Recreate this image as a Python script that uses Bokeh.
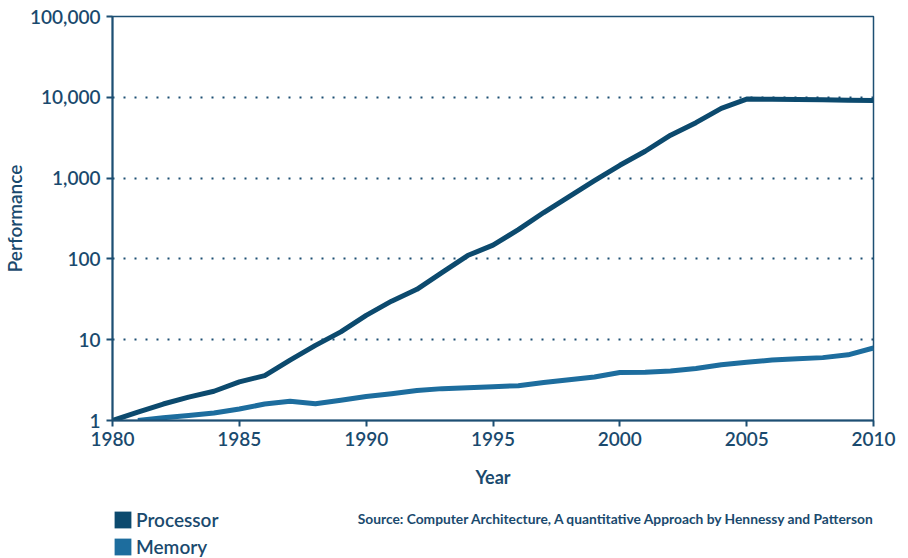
from bokeh.plotting import figure
from bokeh.layouts import column
from bokeh.models import (ColumnDataSource, Legend, LegendItem, Label,
                          NumeralTickFormatter, FixedTicker)
from bokeh.embed import file_html
from bokeh.resources import INLINE

# ---- data ----
proc_years = list(range(1980, 2011))
proc_perf = [1.0, 1.27, 1.6, 1.95, 2.3, 3.0, 3.6, 5.6, 8.5, 12.5, 20, 30, 42, 68, 110,
             148, 230, 375, 590, 930, 1440, 2150, 3400, 4850, 7300, 9500, 9450, 9400,
             9300, 9200, 9100]
mem_years = list(range(1981, 2011))
mem_perf = [1.0, 1.08, 1.15, 1.24, 1.39, 1.6, 1.73, 1.61, 1.78, 1.98, 2.14, 2.35, 2.48,
            2.55, 2.62, 2.7, 2.95, 3.2, 3.45, 3.93, 3.95, 4.1, 4.4, 4.9, 5.25, 5.6,
            5.8, 6.0, 6.5, 7.9]
x_ticks = [1980, 1985, 1990, 1995, 2000, 2005, 2010]
y_ticks = [1, 10, 100, 1000, 10000, 100000]
series_names = ["Processor", "Memory"]
source_note = "Source: Computer Architecture, A quantitative Approach by Hennessy and Patterson"

PROC_C = "#0c4a6e"
MEM_C = "#1d6d9e"
TEXT_C = "#1a4a6e"
AX_C = "#1d4f73"
FONT = "Lato"
FONT_MED = "Lato Semibold"

p = figure(width=908, height=490, output_backend="svg", toolbar_location=None,
           y_axis_type="log", x_range=(1980, 2010), y_range=(1, 100000),
           min_border_left=110, min_border_right=35, min_border_top=16,
           min_border_bottom=70)
p.background_fill_color = "white"
p.border_fill_color = "white"
p.outline_line_color = AX_C
p.outline_line_width = 1.5

# grid
p.xgrid.grid_line_color = None
p.ygrid.grid_line_color = AX_C
p.ygrid.grid_line_dash = "2 9"
p.ygrid.grid_line_width = 2
p.ygrid.ticker = FixedTicker(ticks=y_ticks[1:-1])

# axes
for ax in (p.xaxis[0], p.yaxis[0]):
    ax.axis_line_color = AX_C
    ax.axis_line_width = 2
    ax.major_tick_line_color = AX_C
    ax.major_tick_line_width = 2
    ax.major_tick_out = 6
    ax.major_tick_in = 0
    ax.minor_tick_line_color = None
    ax.major_label_text_font = FONT_MED
    ax.major_label_text_font_size = "19px"
    ax.major_label_text_color = TEXT_C
    ax.axis_label_text_color = TEXT_C

p.xaxis.ticker = FixedTicker(ticks=x_ticks)
p.xaxis.axis_label = "Year"
p.xaxis.axis_label_text_font = FONT
p.xaxis.axis_label_text_font_size = "18px"
p.xaxis.axis_label_text_font_style = "bold"
p.xaxis.major_label_standoff = 5
p.xaxis.axis_label_standoff = 17
p.yaxis.ticker = FixedTicker(ticks=y_ticks)
p.yaxis.formatter = NumeralTickFormatter(format="0,0")
p.yaxis.axis_label = "Performance"
p.yaxis.axis_label_text_font = FONT_MED
p.yaxis.axis_label_text_font_size = "19px"
p.yaxis.axis_label_text_font_style = "normal"
p.yaxis.major_label_standoff = 6
p.yaxis.axis_label_standoff = 1

# lines
mem_src = ColumnDataSource(dict(x=mem_years, y=mem_perf))
proc_src = ColumnDataSource(dict(x=proc_years, y=proc_perf))
p.line("x", "y", source=mem_src, line_color=MEM_C, line_width=5, line_join="round")
p.line("x", "y", source=proc_src, line_color=PROC_C, line_width=5, line_join="round")

# ---- footer: legend + source note (frame is aligned with the main frame) ----
f = figure(width=908, height=68, output_backend="svg", toolbar_location=None,
           x_range=(0, 1), y_range=(0, 1),
           min_border_left=110, min_border_right=35, min_border_top=0,
           min_border_bottom=0)
f.axis.visible = False
f.grid.visible = False
f.outline_line_color = None
f.background_fill_color = "white"
f.border_fill_color = "white"

# swatch-only renderers, kept outside the visible range
swatch = ColumnDataSource(dict(l=[5], r=[6], b=[5], t=[6]))
r_proc = f.quad(left="l", right="r", bottom="b", top="t", source=swatch,
                fill_color=PROC_C, line_color=None)
r_mem = f.quad(left="l", right="r", bottom="b", top="t", source=swatch,
               fill_color=MEM_C, line_color=None)
legend = Legend(items=[LegendItem(label=series_names[0], renderers=[r_proc]),
                       LegendItem(label=series_names[1], renderers=[r_mem])],
                location=(0, 0), orientation="vertical",
                glyph_width=21, glyph_height=21, label_height=23,
                label_standoff=3, spacing=4, padding=0, margin=0,
                border_line_color=None, background_fill_alpha=0,
                label_text_font=FONT_MED, label_text_font_size="19px",
                label_text_color=TEXT_C)
f.add_layout(legend, "center")

note = Label(x=763, y=40, x_units="screen", y_units="screen", text=source_note,
             text_align="right", text_baseline="middle", text_font=FONT,
             text_font_size="13.8px", text_font_style="bold", text_color=TEXT_C)
f.add_layout(note)

layout = column(p, f, spacing=0)
open("out.html", "w").write(file_html(layout, INLINE))
